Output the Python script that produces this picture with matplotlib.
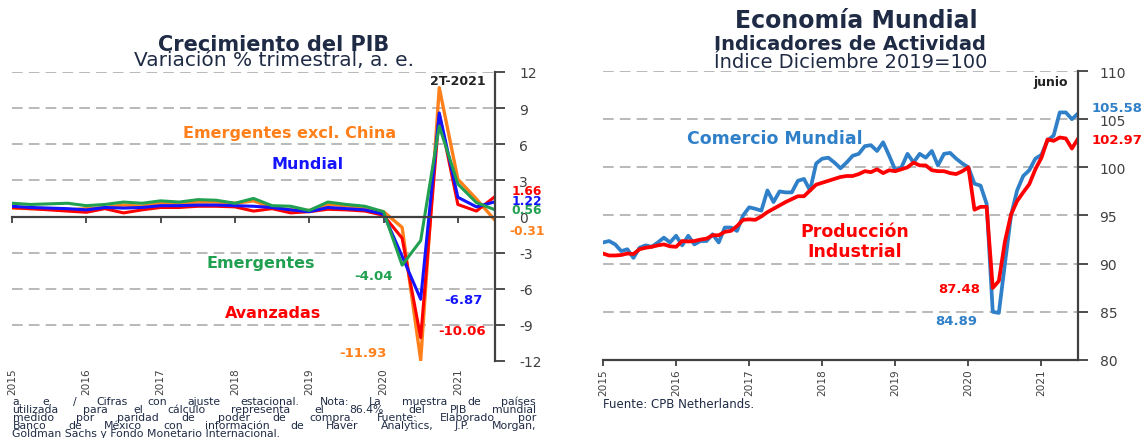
import numpy as np
import matplotlib.pyplot as plt

W, H = 1145, 439

# ---- Crecimiento del PIB: variacion % trimestral a. e., 4T-2014 .. 2T-2021
trimestres = 2015 + 0.25 * np.arange(27)
avanzadas = [0.75, 0.65, 0.55, 0.45, 0.35, 0.65, 0.3, 0.55, 0.75, 0.75, 0.85, 0.85, 0.8,
             0.45, 0.65, 0.3, 0.4, 0.6, 0.55, 0.45, 0.1, -1.8, -10.06, 8.5, 1.0, 0.45, 1.66]
mundial = [0.85, 0.75, 0.7, 0.65, 0.55, 0.75, 0.7, 0.75, 0.9, 0.9, 0.95, 0.95, 0.9,
           0.85, 0.75, 0.55, 0.4, 0.75, 0.65, 0.55, 0.2, -3.3, -6.87, 8.6, 1.6, 0.8, 1.22]
emergentes = [1.1, 1.0, 1.05, 1.1, 0.9, 1.0, 1.2, 1.1, 1.3, 1.2, 1.4, 1.35, 1.1,
              1.5, 0.9, 0.85, 0.5, 1.2, 1.0, 0.85, 0.4, -4.04, -2.0, 7.5, 2.7, 1.15, 0.56]
emerg_ex_china = [0.7, 0.65, 0.65, 0.55, 0.65, 0.75, 0.95, 0.85, 1.1, 1.1, 1.2, 1.2, 1.1,
                  1.3, 0.75, 0.55, 0.5, 1.0, 0.9, 0.65, 0.4, -0.9, -11.93, 10.7, 3.1, 1.45, -0.31]

# ---- Indicadores de actividad: indice dic 2019 = 100, dic 2014 .. jun 2021
meses = 2015 + np.arange(79) / 12
comercio = [92.2, 92.35, 92.0, 91.3, 91.5, 90.6, 91.65, 91.9, 91.75, 92.2, 92.7, 92.2,
            92.9, 91.9, 92.9, 92.0, 92.35, 92.35, 93.05, 92.2, 93.75, 93.75, 93.4, 95.0,
            95.85, 95.7, 95.5, 97.6, 96.4, 97.5, 97.4, 97.4, 98.6, 98.8, 97.6, 100.4,
            100.9, 101.0, 100.5, 99.9, 100.5, 101.2, 101.4, 102.2, 102.3, 101.7, 102.6, 101.2,
            99.7, 100.0, 101.4, 100.5, 101.4, 101.0, 101.7, 100.2, 101.4, 101.5, 100.9, 100.4,
            100.0, 98.3, 98.1, 96.2, 85.0, 84.89, 90.0, 95.0, 97.6, 99.1, 99.7, 100.9,
            101.3, 102.8, 103.3, 105.7, 105.7, 105.0, 105.58]
produccion = [91.05, 90.85, 90.85, 90.9, 91.05, 91.0, 91.5, 91.65, 91.75, 91.9, 92.0, 91.8,
              91.75, 92.35, 92.3, 92.35, 92.5, 92.6, 92.95, 92.95, 93.3, 93.4, 93.9, 94.55,
              94.6, 94.55, 94.9, 95.35, 95.7, 96.05, 96.4, 96.7, 97.0, 97.0, 97.6, 98.2,
              98.4, 98.6, 98.8, 99.0, 99.1, 99.1, 99.3, 99.6, 99.5, 99.8, 99.4, 99.7,
              99.6, 99.8, 100.0, 100.5, 100.2, 100.2, 99.7, 99.6, 99.6, 99.4, 99.3, 99.6,
              100.0, 95.6, 95.9, 95.9, 87.48, 88.2, 92.3, 95.1, 96.5, 97.4, 98.25, 99.8,
              101.0, 102.9, 102.75, 103.1, 103.0, 101.95, 102.97]

anios = [2015, 2016, 2017, 2018, 2019, 2020, 2021]
ticks_pib = [-12, -9, -6, -3, 0, 3, 6, 9, 12]
grid_pib = [-9, -6, -3, 3, 6, 9, 12]
ticks_ind = [80, 85, 90, 95, 100, 105, 110]
grid_ind = [85, 90, 95, 100, 105, 110]

c_title = '#1F2B45'
c_axis = '#404040'
c_grid = '#A6A6A6'
c_red, c_blue, c_green, c_orange = '#FF0000', '#1414FF', '#20A050', '#FF7F1A'
c_trade = '#2F80C8'


def px_box(x0, y0, x1, y1):
    return [x0 / W, 1 - y1 / H, (x1 - x0) / W, (y1 - y0) / H]


def base_style(ax, yticks, grid_levels, pad):
    for s in ('left', 'top'):
        ax.spines[s].set_visible(False)
    for s in ('right', 'bottom'):
        ax.spines[s].set_color(c_axis)
        ax.spines[s].set_linewidth(1.6)
    ax.yaxis.tick_right()
    ax.set_yticks(yticks)
    ax.set_yticklabels([str(t) for t in yticks])
    ax.tick_params(axis='y', direction='out', length=7, width=1.3, color=c_axis,
                   labelcolor=c_axis, labelsize=10, pad=pad)
    for g in grid_levels:
        ax.axhline(g, color=c_grid, lw=1.1, ls=(0, (7, 4)), zorder=0)
    ax.set_xticks(anios)


fig = plt.figure(figsize=(W / 100, H / 100), dpi=100)

# ---------------- left panel ----------------
axL = fig.add_axes(px_box(12, 73, 495, 362))
base_style(axL, ticks_pib, grid_pib, 10.5)
axL.set_xlim(2015, 2021.5)
axL.set_ylim(-12, 12)
axL.spines['bottom'].set_position(('data', 0))
axL.tick_params(axis='x', direction='out', length=4, width=1.3, color=c_axis, labelbottom=False)
sec = axL.secondary_xaxis('bottom')
sec.set_xticks(anios)
sec.set_xticklabels([str(a) for a in anios])
sec.tick_params(length=0, labelrotation=90, labelsize=7.6, labelcolor=c_axis, pad=4.5)
sec.spines['bottom'].set_visible(False)

axL.plot(trimestres, emerg_ex_china, color=c_orange, lw=2.4)
axL.plot(trimestres, avanzadas, color=c_red, lw=2.2)
axL.plot(trimestres, mundial, color=c_blue, lw=2.2)
axL.plot(trimestres, emergentes, color=c_green, lw=2.2)

bold = dict(fontweight='bold', ha='center', va='center')
axL.text(2021.0, 11.3, '2T-2021', color='#222222', fontsize=9, **bold)
axL.text(2018.74, 7.0, 'Emergentes excl. China', color=c_orange, fontsize=11.5, **bold)
axL.text(2018.98, 4.43, 'Mundial', color=c_blue, fontsize=11.5, **bold)
axL.text(2018.35, -3.8, 'Emergentes', color=c_green, fontsize=11.5, **bold)
axL.text(2018.51, -7.97, 'Avanzadas', color=c_red, fontsize=11.5, **bold)
axL.text(2019.86, -4.9, f'{min(emergentes):.2f}', color=c_green, fontsize=9.5, **bold)
axL.text(2021.07, -6.86, f'{min(mundial):.2f}', color=c_blue, fontsize=9.5, **bold)
axL.text(2021.06, -9.44, f'{min(avanzadas):.2f}', color=c_red, fontsize=9.5, **bold)
axL.text(2019.72, -11.28, f'{min(emerg_ex_china):.2f}', color=c_orange, fontsize=9.5, **bold)
for val, col, yy in [(avanzadas[-1], c_red, 2.15), (mundial[-1], c_blue, 1.35),
                     (emergentes[-1], c_green, 0.55), (emerg_ex_china[-1], c_orange, -1.14)]:
    axL.text(2021.93, yy, f'{val:.2f}', color=col, fontsize=8.8, clip_on=False, **bold)

# ---------------- right panel ----------------
axR = fig.add_axes(px_box(603, 72, 1078, 361))
base_style(axR, ticks_ind, grid_ind, 8.5)
axR.set_xlim(2015, 2021.5)
axR.set_ylim(80, 110)
axR.set_xticklabels([str(a) for a in anios])
axR.tick_params(axis='x', direction='out', length=4, width=1.3, color=c_axis,
                labelrotation=90, labelsize=7.6, labelcolor=c_axis, pad=2)

axR.plot(meses, comercio, color=c_trade, lw=2.7)
axR.plot(meses, produccion, color=c_red, lw=2.7)

axR.text(2021.12, 108.86, 'junio', color='#222222', fontsize=9, **bold)
axR.text(2017.35, 103.04, 'Comercio Mundial', color=c_trade, fontsize=12.5, **bold)
axR.text(2018.45, 92.35, 'Producción\nIndustrial', color=c_red, fontsize=12.5,
         linespacing=1.15, **bold)
axR.text(2019.87, 87.47, f'{min(produccion):.2f}', color=c_red, fontsize=9.5, **bold)
axR.text(2019.83, 84.05, f'{min(comercio):.2f}', color=c_trade, fontsize=9.5, **bold)
axR.text(2021.69, 106.26, f'{comercio[-1]:.2f}', color=c_trade, fontsize=9.5,
         fontweight='bold', ha='left', va='center', clip_on=False)
axR.text(2021.69, 102.94, f'{produccion[-1]:.2f}', color=c_red, fontsize=9.5,
         fontweight='bold', ha='left', va='center', clip_on=False)

# ---------------- titles ----------------
fig.text(274 / W, 1 - 45 / H, 'Crecimiento del PIB', ha='center', va='center',
         fontsize=15, fontweight='bold', color=c_title)
fig.text(274 / W, 1 - 61 / H, 'Variación % trimestral, a. e.', ha='center', va='center',
         fontsize=14.5, color=c_title)
fig.text(856 / W, 1 - 21 / H, 'Economía Mundial', ha='center', va='center',
         fontsize=17, fontweight='bold', color=c_title)
fig.text(850 / W, 1 - 45 / H, 'Indicadores de Actividad', ha='center', va='center',
         fontsize=14, fontweight='bold', color=c_title)
fig.text(851 / W, 1 - 62 / H, 'Índice Diciembre 2019=100', ha='center', va='center',
         fontsize=14, color=c_title)

# ---------------- notes (justified) ----------------
nota = ['a. e. / Cifras con ajuste estacional. Nota: La muestra de países',
        'utilizada para el cálculo representa el 86.4% del PIB mundial',
        'medido por paridad de poder de compra.  Fuente: Elaborado por',
        'Banco de México con información de Haver Analytics, J.P. Morgan,',
        'Goldman Sachs y Fondo Monetario Internacional.']
renderer = fig.canvas.get_renderer()
x0, x1 = 12.5 / W, 536 / W
for k, line in enumerate(nota):
    yb = 1 - (405.5 + 8.0 * k) / H
    kw = dict(fontsize=7.8, color=c_title, va='baseline', ha='left')
    if k == len(nota) - 1:
        fig.text(x0, yb, line, **kw)
        continue
    words = line.split()
    objs = [fig.text(0, yb, w, **kw) for w in words]
    widths = [o.get_window_extent(renderer).width / W for o in objs]
    gap = (x1 - x0 - sum(widths)) / (len(words) - 1)
    xp = x0
    for o, wd in zip(objs, widths):
        o.set_x(xp)
        xp += wd + gap

fig.text(603 / W, 1 - 408 / H, 'Fuente: CPB Netherlands.', fontsize=8.5,
         color=c_title, va='baseline', ha='left')

fig.savefig('out.png', dpi=100)
